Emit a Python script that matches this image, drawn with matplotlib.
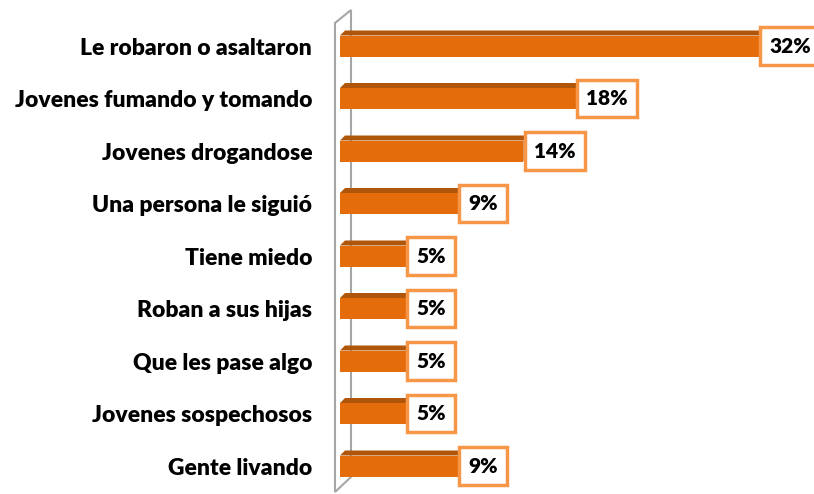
import matplotlib
matplotlib.use('Agg')
import matplotlib.pyplot as plt
from matplotlib.patches import Polygon

plt.rcParams['font.family'] = ['Lato', 'DejaVu Sans']

categories = ['Le robaron o asaltaron', 'Jovenes fumando y tomando', 'Jovenes drogandose',
              'Una persona le siguió', 'Tiene miedo', 'Roban a sus hijas',
              'Que les pase algo', 'Jovenes sospechosos', 'Gente livando']
values = [32, 18, 14, 9, 5, 5, 5, 5, 9]
labels = ['32%', '18%', '14%', '9%', '5%', '5%', '5%', '5%', '9%']

front = '#E46C0A'
dark = '#B0560A'
box_edge = '#F79646'

fig = plt.figure(figsize=(8.14, 4.94), dpi=100)
ax = fig.add_axes([340 / 814, 0, 474 / 814, 1])

pxx = 13.1   # pixels per unit on x
pxy = 52.5   # pixels per row
ax.set_xlim(0, 474 / pxx)
ax.set_ylim((494 - 46) / pxy, -46 / pxy)

h = 0.4
dx = 5 / pxx
dy = 5 / pxy

ys = list(range(len(categories)))
ax.barh(ys, values, height=h, color=front, zorder=3)
for y, v in zip(ys, values):
    t = y - h / 2
    ax.add_patch(Polygon([(0, t), (v, t), (v + dx, t - dy), (dx, t - dy)],
                         closed=True, fc=dark, ec='none', zorder=2))
    ax.add_patch(Polygon([(v, t), (v + dx, t - dy), (v + dx, t + h - dy), (v, t + h)],
                         closed=True, fc=dark, ec='none', zorder=2))

for y, v, lab in zip(ys, values, labels):
    ax.text(v + 0.8, y, lab, ha='left', va='center', fontsize=15, fontweight='heavy',
            color='black', zorder=5, clip_on=False,
            bbox=dict(boxstyle='square,pad=0.45', fc='white', ec=box_edge, lw=2.5))

# back wall outline
wl = -5 / pxx
wr = 11 / pxx
wall = [(wl, (23 - 46) / pxy), (wr, (10 - 46) / pxy), (wr, (477 - 46) / pxy),
        (wl, (492 - 46) / pxy)]
ax.add_patch(Polygon(wall, closed=True, fill=False, ec='#A6A6A6', lw=1.5, zorder=1,
                     clip_on=False))

ax.set_yticks(ys)
ax.set_yticklabels(categories, fontsize=16.5, fontweight='heavy')
ax.tick_params(axis='y', length=0, pad=20)
ax.set_xticks([])
for s in ax.spines.values():
    s.set_visible(False)

fig.savefig('out.png', dpi=100)
